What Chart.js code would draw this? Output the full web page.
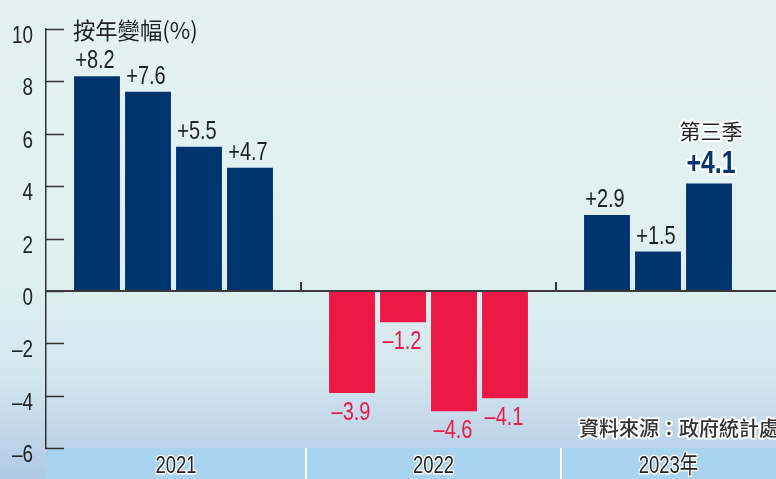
<!DOCTYPE html>
<html>
<head>
<meta charset="utf-8">
<script src="https://cdn.jsdelivr.net/npm/chart.js@4.4.1/dist/chart.umd.min.js"></script>
<style>
  html, body { margin: 0; padding: 0; background: #e2f1f0; }
  #wrap { width: 776px; height: 479px; }
</style>
</head>
<body>
<div id="wrap"><canvas id="chart" width="776" height="479"></canvas></div>
<script>
// --- Data ---
// empty slots ('') mark the gaps between the years
const quarters = ['', '第一季', '第二季', '第三季', '第四季', '', '第一季', '第二季', '第三季', '第四季', '', '第一季', '第二季', '第三季', ''];
const values   = [null, 8.2, 7.6, 5.5, 4.7, null, -3.9, -1.2, -4.6, -4.1, null, 2.9, 1.5, 4.1, null];
const years    = ['2021', '2022', '2023年'];
const yTitle = '按年變幅(%)';
const highlightIndex = 13;
const highlightNote = '第三季';
const sourceNote = '資料來源：政府統計處';

// --- Style ---
const NAVY = '#00346f';
const RED = '#ee1847';
const INK = '#222222';
const SANS = "'Liberation Sans', Arial, 'Noto Sans CJK TC', sans-serif";
const CJK = "'Noto Sans CJK TC', sans-serif";
const SQUEEZE = 0.8; // condensed look, like Helvetica Condensed

const fmt = (v) => (v > 0 ? '+' : '–') + Math.abs(v).toFixed(1);

// draws condensed text, optional white halo
const drawText = (ctx, text, x, y, { font, color, align = 'center', baseline = 'alphabetic', halo = 0, squeeze = SQUEEZE }) => {
    ctx.save();
    ctx.translate(x, y);
    ctx.scale(squeeze, 1);
    ctx.font = font;
    ctx.textAlign = align;
    ctx.textBaseline = baseline;
    if (halo) {
        ctx.lineJoin = 'round';
        ctx.lineWidth = halo;
        ctx.strokeStyle = '#ffffff';
        ctx.strokeText(text, 0, 0);
    }
    ctx.fillStyle = color;
    ctx.fillText(text, 0, 0);
    ctx.restore();
};

// gap slots give the year boundaries
const boundaries = quarters.map((q, i) => q === '' ? i : -1).filter(i => i >= 0);

// background gradient + bottom band
const backdrop = {
    id: 'backdrop',
    beforeDraw(chart) {
        const { ctx, width, height, chartArea } = chart;
        const g = ctx.createLinearGradient(0, 0, 0, height);
        g.addColorStop(0, '#e3f2f1');
        g.addColorStop(0.55, '#e0f0f0');
        g.addColorStop(0.78, '#d3e7ee');
        g.addColorStop(0.93, '#bcd3e8');
        g.addColorStop(1, '#b0c9e4');
        ctx.save();
        ctx.fillStyle = g;
        ctx.fillRect(0, 0, width, height);
        ctx.fillStyle = '#a9d4f0';
        ctx.fillRect(chartArea.left, chartArea.bottom, width - chartArea.left, height - chartArea.bottom);
        ctx.restore();
    }
};

// zero line, inner ticks, tick labels, year band, value labels
const decorations = {
    id: 'decorations',
    afterDatasetsDraw(chart) {
        const { ctx, width, height, chartArea, scales: { x, y } } = chart;
        const y0 = y.getPixelForValue(0);
        ctx.save();

        // inner tick marks + labels on the y axis
        ctx.strokeStyle = '#333333';
        ctx.lineWidth = 1.5;
        y.ticks.forEach(t => {
            const py = Math.round(y.getPixelForValue(t.value)) + 0.5;
            ctx.beginPath();
            ctx.moveTo(chartArea.left, py);
            ctx.lineTo(chartArea.left + 18, py);
            ctx.stroke();
            drawText(ctx, String(t.value).replace('-', '–'), 33, py + 7,
                { font: `23px ${SANS}`, color: INK, align: 'right', baseline: 'middle', squeeze: 0.82 });
        });

        // zero line + small upticks at year gaps
        ctx.strokeStyle = '#3a3a3a';
        ctx.lineWidth = 2;
        ctx.beginPath();
        ctx.moveTo(chartArea.left, y0);
        ctx.lineTo(width, y0);
        ctx.stroke();
        boundaries.slice(1, -1).forEach(i => {
            const px = x.getPixelForValue(i);
            ctx.beginPath();
            ctx.moveTo(px, y0 - 9);
            ctx.lineTo(px, y0);
            ctx.stroke();
        });

        // year band dividers + year labels
        ctx.strokeStyle = '#ffffff';
        ctx.lineWidth = 2;
        const dividers = boundaries.slice(1, -1).map(i => x.getPixelForValue(i) + 5);
        dividers.forEach(px => {
            ctx.beginPath();
            ctx.moveTo(px, chartArea.bottom);
            ctx.lineTo(px, height);
            ctx.stroke();
        });
        const edges = [chartArea.left, ...dividers, width];
        years.forEach((label, k) => {
            drawText(ctx, label, (edges[k] + edges[k + 1]) / 2, 466,
                { font: `24px ${SANS}`, color: INK, baseline: 'middle', halo: 3, squeeze: 0.77 });
        });

        // value labels
        const meta = chart.getDatasetMeta(0);
        meta.data.forEach((bar, i) => {
            const v = values[i];
            if (v === null) return;
            if (i === highlightIndex) {
                drawText(ctx, fmt(v), bar.x + 2, bar.y - 11,
                    { font: `bold 31px ${SANS}`, color: NAVY, halo: 5 });
                drawText(ctx, highlightNote, bar.x + 2, bar.y - 45,
                    { font: `21px ${CJK}`, color: INK, halo: 4, squeeze: 1 });
                return;
            }
            if (v > 0) {
                drawText(ctx, fmt(v), bar.x - 2, bar.y - 8, { font: `25px ${SANS}`, color: INK });
            } else {
                drawText(ctx, fmt(v), bar.x - 1, bar.y + 27, { font: `25px ${SANS}`, color: RED });
            }
        });

        // axis title
        drawText(ctx, yTitle, 73, 39, { font: `23px ${CJK}`, color: INK, align: 'left', squeeze: 0.97 });

        // source
        drawText(ctx, sourceNote, 779, 436,
            { font: `500 20px ${CJK}`, color: '#333333', align: 'right', halo: 4, squeeze: 1 });

        ctx.restore();
    }
};

new Chart(document.getElementById('chart'), {
    type: 'bar',
    data: {
        labels: quarters,
        datasets: [{
            data: values,
            backgroundColor: (c) => (c.raw < 0 ? RED : NAVY),
            borderWidth: 0,
            barPercentage: 0.9,
            categoryPercentage: 1
        }]
    },
    options: {
        responsive: false,
        devicePixelRatio: 1,
        animation: false,
        layout: { padding: { top: 29, bottom: 31, right: 16, left: 0 } },
        plugins: { legend: { display: false }, tooltip: { enabled: false } },
        scales: {
            x: { display: false, offset: false },
            y: {
                min: -6,
                max: 10,
                afterFit(scale) { scale.width = 46; },
                ticks: { stepSize: 2, display: false },
                grid: { display: false, drawTicks: false },
                border: { display: true, color: '#333333', width: 1.5 }
            }
        }
    },
    plugins: [backdrop, decorations]
});
</script>
</body>
</html>
